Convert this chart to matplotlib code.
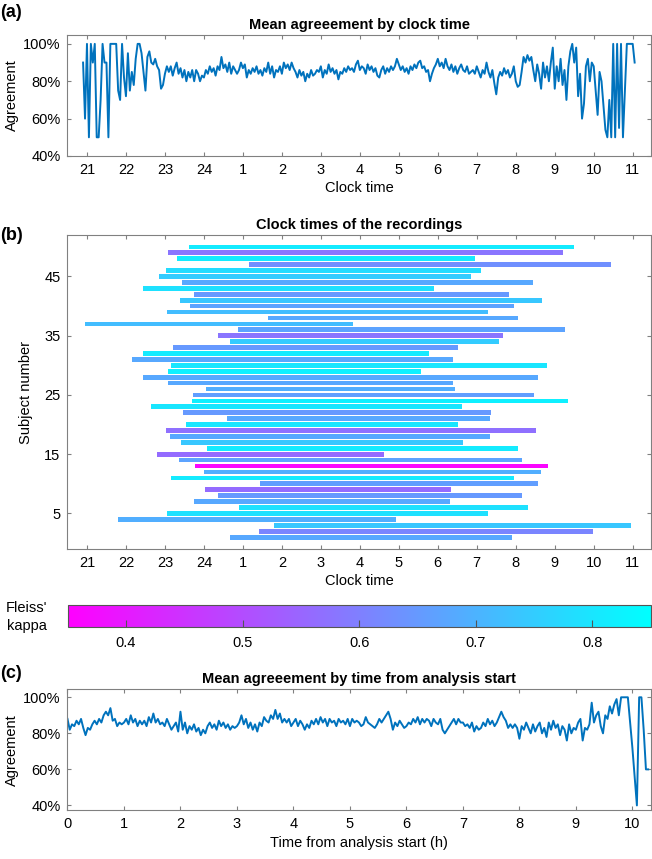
import numpy as np
import matplotlib
matplotlib.use("Agg")
import matplotlib.pyplot as plt
from matplotlib.colors import Normalize
from matplotlib.cm import ScalarMappable

plt.rcParams["font.family"] = ["Liberation Sans", "DejaVu Sans"]

# -----------------------------
# Data
# -----------------------------

# (a) mean agreement (%) by clock time, sampled every 0.05 h from 20.9 h
# (one row = one hour)
agree_clock = [
    90, 60, 100, 50, 100, 90, 100, 50, 50, 70, 100, 90, 90, 50, 100, 100, 100, 100, 75, 70,
    100, 82, 72, 95, 75, 85, 78, 92, 100, 100, 95, 85, 75, 93, 96, 90, 89, 92, 88, 86,
    76, 78, 84, 88, 85, 88, 83, 87, 90, 84, 87, 82, 86, 80, 85, 82, 86, 80, 86, 84,
    80, 83, 82, 86, 84, 88, 85, 87, 83, 88, 86, 93, 87, 89, 85, 90, 84, 88, 86, 84,
    86, 90, 87, 89, 82, 86, 84, 87, 85, 88, 84, 86, 83, 87, 85, 90, 84, 88, 82, 86,
    85, 88, 84, 90, 87, 89, 86, 90, 87, 85, 82, 86, 83, 85, 80, 84, 82, 86, 83, 84,
    86, 85, 88, 82, 86, 84, 89, 85, 87, 84, 86, 81, 85, 84, 87, 85, 88, 86, 87, 85,
    89, 91, 86, 88, 87, 84, 89, 86, 88, 85, 87, 83, 82, 86, 88, 84, 87, 85, 88, 86,
    88, 92, 89, 86, 88, 85, 87, 84, 88, 86, 89, 87, 90, 91, 87, 88, 85, 86, 80, 84,
    87, 89, 92, 88, 90, 87, 92, 88, 86, 89, 85, 88, 84, 87, 89, 86, 85, 88, 84, 85,
    86, 84, 88, 85, 82, 86, 84, 90, 85, 82, 86, 79, 73, 82, 85, 83, 87, 84, 86, 82,
    84, 88, 80, 77, 78, 85, 93, 90, 94, 91, 93, 86, 80, 89, 84, 76, 90, 82, 88, 80,
    90, 98, 76, 88, 80, 92, 78, 86, 70, 88, 96, 100, 90, 98, 72, 84, 60, 68, 88, 92,
    80, 90, 88, 75, 62, 85, 80, 67, 54, 50, 70, 50, 100, 50, 100, 55, 100, 50, 75, 100,
    100, 100, 100, 90,
]
clock_t0 = 20.9
clock_step = 0.05

# (c) mean agreement (%) by time from analysis start, sampled every 0.04 h
agree_elapsed = [
    88, 82, 85, 84, 87, 85, 88, 83, 79, 83, 82, 85, 87, 85, 88, 86, 90, 92, 90, 94, 87, 88, 84, 86, 85,
    86, 88, 85, 90, 86, 88, 84, 87, 85, 87, 84, 89, 86, 91, 86, 88, 85, 86, 84, 88, 85, 82, 84, 86, 81,
    92, 82, 86, 80, 84, 82, 85, 81, 83, 79, 82, 80, 84, 86, 83, 85, 82, 87, 84, 86, 83, 85, 82, 84, 83,
    84, 86, 90, 85, 88, 83, 86, 82, 85, 81, 86, 84, 89, 87, 86, 90, 88, 93, 88, 91, 86, 88, 86, 88, 84,
    86, 88, 84, 87, 85, 82, 85, 83, 87, 85, 88, 85, 89, 86, 88, 84, 88, 86, 87, 84, 88, 86, 87, 85, 88,
    84, 88, 86, 87, 86, 84, 85, 89, 86, 85, 84, 83, 85, 88, 86, 88, 90, 92, 88, 82, 86, 84, 87, 85, 83,
    84, 86, 85, 88, 86, 89, 85, 88, 86, 88, 87, 84, 88, 86, 85, 88, 82, 80, 82, 84, 86, 88, 85, 88, 86,
    86, 84, 85, 83, 86, 81, 84, 82, 83, 86, 84, 88, 85, 87, 84, 86, 89, 92, 89, 87, 83, 85, 83, 85, 83,
    77, 84, 82, 86, 83, 80, 85, 81, 84, 86, 80, 83, 78, 86, 82, 87, 83, 85, 79, 84, 82, 76, 85, 80, 83,
    82, 86, 88, 76, 83, 82, 85, 97, 86, 90, 92, 84, 80, 90, 88, 95, 91, 96, 99, 90, 100, 100, 100, 100, 86,
    72, 56, 40, 100, 100, 82, 60, 60,
]
elapsed_step = 0.04

# (b) recordings: subject 1..50, start / end (clock hours, >24 = next day), Fleiss' kappa
subjects = list(range(1, 51))
rec_start = [
    24.66, 25.41, 25.80, 21.79, 23.06, 24.91, 23.74, 24.37, 24.02, 25.43,
    23.15, 24.01, 23.78, 23.35, 22.79, 24.08, 23.41, 23.12, 23.03, 23.53,
    24.60, 23.47, 22.65, 23.69, 23.73, 24.06, 23.08, 22.43, 23.09, 23.15,
    22.15, 22.45, 23.20, 24.67, 24.35, 24.87, 20.94, 25.64, 23.06, 23.64,
    23.38, 23.75, 22.43, 23.45, 22.85, 23.04, 25.15, 23.31, 23.08, 23.62,
]
rec_end = [
    31.90, 33.97, 34.95, 28.93, 31.28, 32.32, 30.31, 32.17, 30.33, 32.57,
    31.96, 32.66, 32.83, 32.15, 28.62, 32.06, 30.64, 31.35, 32.51, 30.51,
    31.34, 31.37, 30.62, 33.33, 32.46, 30.45, 30.38, 32.56, 29.57, 32.80,
    30.38, 29.77, 30.51, 31.57, 31.67, 33.27, 27.82, 32.05, 31.30, 31.96,
    32.68, 31.82, 29.91, 32.43, 30.84, 31.11, 34.45, 30.96, 33.22, 33.50,
]
kappa = [
    0.68, 0.61, 0.74, 0.69, 0.79, 0.79, 0.68, 0.65, 0.56, 0.66,
    0.81, 0.69, 0.36, 0.67, 0.56, 0.81, 0.74, 0.68, 0.57, 0.80,
    0.68, 0.65, 0.80, 0.82, 0.66, 0.69, 0.68, 0.68, 0.82, 0.80,
    0.68, 0.81, 0.65, 0.75, 0.58, 0.67, 0.72, 0.68, 0.72, 0.67,
    0.74, 0.65, 0.79, 0.68, 0.75, 0.78, 0.63, 0.81, 0.58, 0.81,
]

hour_ticks = list(range(21, 36))
hour_labels = ["21", "22", "23", "24", "1", "2", "3", "4", "5", "6", "7", "8", "9", "10", "11"]
pct_ticks = [40, 60, 80, 100]
pct_labels = ["40%", "60%", "80%", "100%"]

line_color = "#0072BD"
spine_color = "#808080"
fs = 10.5

# -----------------------------
# Figure
# -----------------------------

fig = plt.figure(figsize=(6.52, 8.59), dpi=100)

ax_a = fig.add_axes([0.1035, 0.8184, 0.895, 0.1414])
ax_b = fig.add_axes([0.1035, 0.3609, 0.895, 0.3655])
cax = fig.add_axes([0.1038, 0.2704, 0.894, 0.0253])
ax_c = fig.add_axes([0.1035, 0.0565, 0.895, 0.1414])


def style(ax):
    for s in ax.spines.values():
        s.set_color(spine_color)
        s.set_linewidth(0.8)
    ax.tick_params(direction="in", length=3, color=spine_color, width=0.8,
                   top=True, right=True, labelsize=fs, pad=5)


# (a) mean agreement by clock time
t_a = clock_t0 + clock_step * np.arange(len(agree_clock))
ax_a.plot(t_a, agree_clock, color=line_color, lw=1.4)
ax_a.set_xlim(20.5, 35.47)
ax_a.set_ylim(40, 105)
ax_a.set_xticks(hour_ticks)
ax_a.set_xticklabels(hour_labels)
ax_a.set_yticks(pct_ticks)
ax_a.set_yticklabels(pct_labels)
ax_a.set_xlabel("Clock time", fontsize=fs, labelpad=3)
ax_a.set_ylabel("Agreement", fontsize=fs, labelpad=3)
ax_a.set_title("Mean agreeement by clock time", fontsize=fs, fontweight="bold", pad=4)
style(ax_a)

# (b) clock times of the recordings
cmap = plt.get_cmap("cool_r")
norm = Normalize(vmin=0.35, vmax=0.85)
starts = np.array(rec_start)
ends = np.array(rec_end)
ax_b.barh(subjects, ends - starts, left=starts, height=0.8,
          color=cmap(norm(np.array(kappa))), linewidth=0)
ax_b.set_xlim(20.5, 35.47)
ax_b.set_ylim(-1, 52)
ax_b.set_xticks(hour_ticks)
ax_b.set_xticklabels(hour_labels)
ax_b.set_yticks([5, 15, 25, 35, 45])
ax_b.set_xlabel("Clock time", fontsize=fs, labelpad=3)
ax_b.set_ylabel("Subject number", fontsize=fs, labelpad=8)
ax_b.set_title("Clock times of the recordings", fontsize=fs, fontweight="bold", pad=4)
style(ax_b)

# colorbar
cb = fig.colorbar(ScalarMappable(norm=norm, cmap=cmap), cax=cax, orientation="horizontal")
cb.set_ticks([0.4, 0.5, 0.6, 0.7, 0.8])
cb.outline.set_edgecolor("#555555")
cb.outline.set_linewidth(0.8)
cax.tick_params(direction="in", length=5, color="#555555", labelsize=fs, pad=7)
fig.text(0.0414, 0.2817, "Fleiss'\nkappa", ha="center", va="center", fontsize=fs,
         linespacing=1.3)

# (c) mean agreement by time from analysis start
t_c = elapsed_step * np.arange(len(agree_elapsed))
ax_c.plot(t_c, agree_elapsed, color=line_color, lw=1.4)
ax_c.set_xlim(0, 10.33)
ax_c.set_ylim(37.2, 104.6)
ax_c.set_xticks(range(0, 11))
ax_c.set_yticks(pct_ticks)
ax_c.set_yticklabels(pct_labels)
ax_c.set_xlabel("Time from analysis start (h)", fontsize=fs, labelpad=3)
ax_c.set_ylabel("Agreement", fontsize=fs, labelpad=3)
ax_c.set_title("Mean agreeement by time from analysis start", fontsize=fs, fontweight="bold", pad=4)
style(ax_c)

# panel letters
fig.text(0.0, 1 - 12.5 / 859, "(a)", fontsize=13, fontweight="bold", va="center")
fig.text(0.0, 1 - 236 / 859, "(b)", fontsize=13, fontweight="bold", va="center")
fig.text(0.0, 1 - 673 / 859, "(c)", fontsize=13, fontweight="bold", va="center")

fig.savefig("out.png", dpi=100)
